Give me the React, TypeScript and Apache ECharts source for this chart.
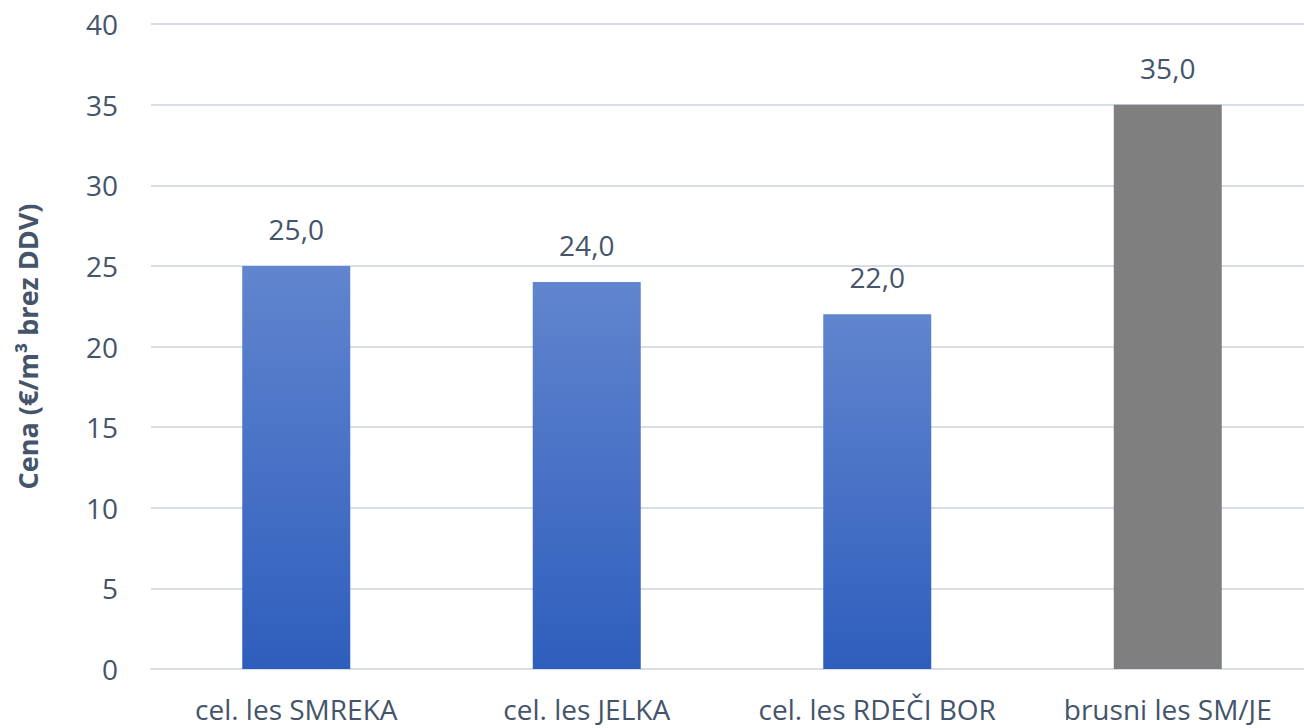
import React, { useEffect, useRef } from "react";
import * as echarts from "echarts";

const categories = ["cel. les SMREKA", "cel. les JELKA", "cel. les RDEČI BOR", "brusni les SM/JE"];
const values = [25.0, 24.0, 22.0, 35.0];
const yAxisName = "Cena (€/m³ brez DDV)";

const textColor = "#44546A";
const font = "'Open Sans', sans-serif";

export default function App() {
  const ref = useRef<HTMLDivElement>(null);
  useEffect(() => {
    const chart = echarts.init(ref.current!, null, { renderer: "svg" });
    const blue = new echarts.graphic.LinearGradient(0, 0, 0, 1, [
      { offset: 0, color: "#6185CE" },
      { offset: 1, color: "#2E5EBD" },
    ]);
    chart.setOption({
      animation: false,
      grid: { left: 151, width: 1162, top: 24, bottom: 59, outerBoundsMode: "none" },
      xAxis: {
        type: "category",
        data: categories,
        axisTick: { show: false },
        axisLine: { lineStyle: { color: "#D9DDE6", width: 2 } },
        axisLabel: { color: textColor, fontSize: 28, fontFamily: font, margin: 26, interval: 0 },
      },
      yAxis: {
        type: "value",
        min: 0,
        max: 40,
        interval: 5,
        name: yAxisName,
        nameLocation: "middle",
        nameGap: 110,
        nameTextStyle: { color: textColor, fontSize: 27, fontWeight: "bold", fontFamily: font },
        axisLabel: { color: textColor, fontSize: 28, fontFamily: font, margin: 33 },
        splitLine: { lineStyle: { color: "#D9DDE6", width: 2 } },
      },
      series: [
        {
          type: "bar",
          barWidth: 108,
          data: values.map((v, i) => ({
            value: v,
            itemStyle: { color: i === 3 ? "#7F7F7F" : blue },
          })),
          label: {
            show: true,
            position: "top",
            distance: 23,
            color: textColor,
            fontSize: 28,
            fontFamily: font,
            formatter: (p: any) => p.value.toFixed(1).replace(".", ","),
          },
        },
      ],
    });
    return () => chart.dispose();
  }, []);
  return (
    <div
      ref={ref}
      style={{ position: "fixed", left: 0, top: 0, width: 1304, height: 728, background: "#fff" }}
    />
  );
}
